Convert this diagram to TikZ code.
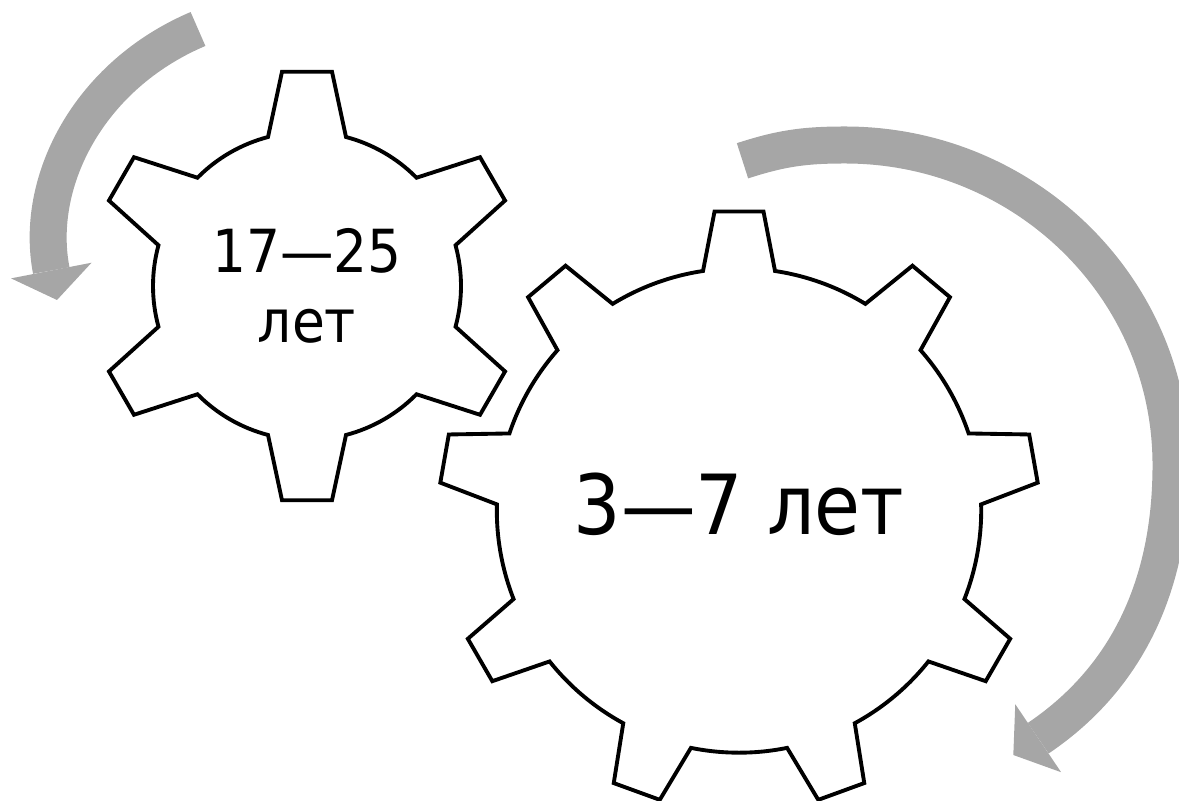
\documentclass[tikz,border=0pt]{standalone}
\usepackage{fontspec}
\setmainfont{DejaVu Sans}[FakeStretch=0.9]
\usetikzlibrary{arrows.meta}

\definecolor{grigio}{RGB}{166,166,166}

\tikzset{
    ruota/.style={line width=1.1pt, black, line join=miter, fill=white},
    freccia/.style={line width=0.37cm, grigio, line cap=butt,
        -{Triangle[length=0.30cm, width=0.82cm, line width=0pt]}},
    testopiccolo/.style={font=\fontsize{16.9pt}{19.9pt}\selectfont, align=center},
    testogrande/.style={font=\fontsize{23.6pt}{28pt}\selectfont},
}

\begin{document}
\begin{tikzpicture}
    \useasboundingbox (0,0) rectangle (11.79,8);

    % Centri degli ingranaggi
    \coordinate (cp) at (3.07,5.14);
    \coordinate (cg) at (7.39,2.895);

    % Ingranaggio piccolo (6 denti)
    \draw[ruota, shift={(cp)}] (44.67:1.54)
        \foreach \a in {90,150,...,390} {
            arc[start angle=\a-45.33, end angle=\a-14.67, radius=1.54]
            -- (\a-6.66:2.157) -- (\a+6.66:2.157) -- (\a+14.67:1.54)
        } -- cycle;

    % Ingranaggio grande (9 denti)
    \draw[ruota, shift={(cg)}] (58.55:2.422)
        \foreach \a in {90,130,...,410} {
            arc[start angle=\a-31.45, end angle=\a-8.55, radius=2.422]
            -- (\a-4.68:3.0) -- (\a+4.68:3.0) -- (\a+8.55:2.422)
        } -- cycle;

    % Testi
    \node[testopiccolo] (etapiccola) at (cp) {17—25\\лет};
    \node[testogrande] (etagrande) at (7.39,2.96) {3—7 лет};

    % Frecce
    \coordinate (fp1) at (1.98,7.71);
    \coordinate (fp2) at (0.57,5.00);
    \draw[freccia] (fp1) to[out=203,in=101] (fp2);

    \coordinate (fg1) at (7.425,6.392);
    \coordinate (fg2) at (8.45,6.55);
    \coordinate (fg3) at (11.71,3.35);
    \coordinate (fg4) at (10.133,0.45);
    \draw[freccia] (fg1) to[out=18,in=180] (fg2) to[out=0,in=90] (fg3)
        to[out=270,in=34] (fg4);
\end{tikzpicture}
\end{document}
